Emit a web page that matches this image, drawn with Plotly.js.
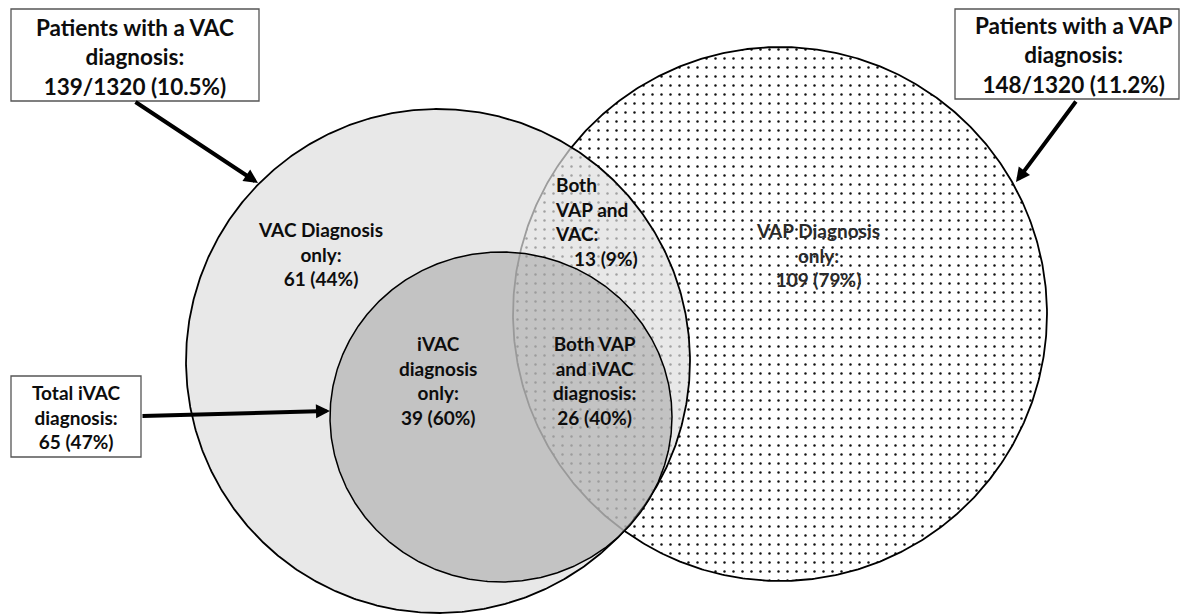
<!DOCTYPE html>
<html>
<head>
<meta charset="utf-8">
<script src="https://cdn.plot.ly/plotly-3.0.1.min.js"></script>
<style>
  html, body { margin: 0; padding: 0; background: #ffffff; overflow: hidden; }
  #chart { width: 1182px; height: 615px; }
</style>
</head>
<body>
<div id="chart"></div>
<script>
// ---------------- DATA ----------------
const totalPatients = 1320;
const setNames   = ['VAC', 'VAP', 'iVAC'];
const setCounts  = [139, 148, 65];
const setPercent = ['10.5', '11.2', '47'];

const regionNames   = ['VAC Diagnosis only', 'Both VAP and VAC', 'iVAC diagnosis only', 'Both VAP and iVAC diagnosis', 'VAP Diagnosis only'];
const regionCounts  = [61, 13, 39, 26, 109];
const regionPercent = [44, 9, 60, 40, 79];

// ---------------- GEOMETRY / STYLE (pixel layout) ----------------
const W = 1182, H = 615;
const circles = {
  VAP:  { cx: 780, cy: 314, rx: 267, ry: 267 },
  VAC:  { cx: 438, cy: 361, rx: 252, ry: 252 },
  iVAC: { cx: 501, cy: 417, rx: 171, ry: 165 }
};
const FONT = 'Lato, "Open Sans", "DejaVu Sans", sans-serif';

function circlePath(c) {
  const xs = [], ys = [];
  const n = 720;
  for (let i = 0; i <= n; i++) {
    const t = 2 * Math.PI * i / n;
    xs.push(c.cx + c.rx * Math.cos(t));
    ys.push(c.cy + c.ry * Math.sin(t));
  }
  return { xs, ys };
}

const pVAP = circlePath(circles.VAP);
const pVAC = circlePath(circles.VAC);
const pIV  = circlePath(circles.iVAC);

const traces = [
  {
    x: pVAP.xs, y: pVAP.ys, type: 'scatter', mode: 'lines', fill: 'toself',
    fillcolor: '#ffffff',
    fillpattern: { shape: '.', bgcolor: '#ffffff', fgcolor: '#111111', fgopacity: 1, size: 9, solidity: 0.06 },
    line: { color: '#000000', width: 1.8 }, hoverinfo: 'skip', showlegend: false
  },
  {
    x: pVAC.xs, y: pVAC.ys, type: 'scatter', mode: 'lines', fill: 'toself',
    fillcolor: 'rgba(222,222,222,0.70)',
    line: { color: '#000000', width: 1.8 }, hoverinfo: 'skip', showlegend: false
  },
  {
    x: pIV.xs, y: pIV.ys, type: 'scatter', mode: 'lines', fill: 'toself',
    fillcolor: 'rgba(150,150,150,0.45)',
    line: { color: '#000000', width: 1.5 }, hoverinfo: 'skip', showlegend: false
  }
];

const inner = { family: FONT, size: 19, color: '#0d0d0d', weight: 700 };
const boxFont = { family: FONT, size: 22.5, color: '#0d0d0d', weight: 700 };

function lbl(text, x, y, font, align, xanchor) {
  return { text, x, y, xref: 'x', yref: 'y', showarrow: false, font,
           align: align || 'center', xanchor: xanchor || 'center', yanchor: 'middle' };
}
function arrow(tail, tip) {
  return { text: '', x: tip[0], y: tip[1], ax: tail[0], ay: tail[1],
           xref: 'x', yref: 'y', axref: 'x', ayref: 'y', showarrow: true,
           arrowhead: 2, arrowsize: 0.7, arrowwidth: 4, arrowcolor: '#000000', standoff: 0, startstandoff: 0 };
}

const rc = (i) => regionCounts[i] + ' (' + regionPercent[i] + '%)';

const annotations = [
  lbl('VAC Diagnosis<br>only:<br>' + rc(0), 320, 254, inner),
  lbl('Both<br>VAP and<br>VAC:', 553, 209, inner, 'left', 'left'),
  lbl(rc(1), 572, 258, inner, 'left', 'left'),
  lbl('iVAC<br>diagnosis<br>only:<br>' + rc(2), 438, 380, inner),
  lbl('Both VAP<br>and iVAC<br>diagnosis:<br>' + rc(3), 594, 380, inner),
  lbl('VAP Diagnosis<br>only:<br>' + rc(4), 818, 255, { family: FONT, size: 19, color: '#2a2a2a', weight: 700 }),

  lbl('Patients with a ' + setNames[0] + '<br>diagnosis:<br>' + setCounts[0] + '/' + totalPatients + ' (' + setPercent[0] + '%)', 135, 57, boxFont),
  lbl('Patients with a ' + setNames[1] + '<br>diagnosis:<br>' + setCounts[1] + '/' + totalPatients + ' (' + setPercent[1] + '%)', 1073, 55, boxFont),
  lbl('Total ' + setNames[2] + '<br>diagnosis:<br>' + setCounts[2] + ' (' + setPercent[2] + '%)', 76, 417, inner),

  arrow([134, 101], [258, 183]),
  arrow([1077, 100], [1016, 182]),
  arrow([141, 416], [330, 411])
];

const boxLine = { color: '#555555', width: 1.3 };
const shapes = [
  { type: 'rect', xref: 'x', yref: 'y', x0: 11, x1: 259, y0: 9, y1: 101, line: boxLine, fillcolor: '#ffffff', layer: 'below' },
  { type: 'rect', xref: 'x', yref: 'y', x0: 955, x1: 1179, y0: 9, y1: 99, line: boxLine, fillcolor: '#ffffff', layer: 'below' },
  { type: 'rect', xref: 'x', yref: 'y', x0: 11, x1: 141, y0: 376, y1: 457, line: boxLine, fillcolor: '#ffffff', layer: 'below' }
];

const layout = {
  width: W, height: H,
  margin: { l: 0, r: 0, t: 0, b: 0, pad: 0 },
  paper_bgcolor: '#ffffff', plot_bgcolor: '#ffffff',
  xaxis: { range: [0, W], visible: false, fixedrange: true },
  yaxis: { range: [H, 0], visible: false, fixedrange: true },
  showlegend: false,
  annotations, shapes
};

Plotly.newPlot('chart', traces, layout, { staticPlot: true, displayModeBar: false });
</script>
</body>
</html>
